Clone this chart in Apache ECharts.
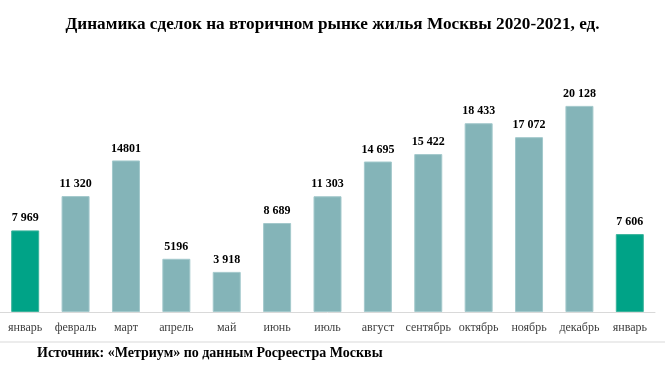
<!DOCTYPE html>
<html>
<head>
<meta charset="utf-8">
<script src="https://cdn.jsdelivr.net/npm/echarts@6/dist/echarts.min.js"></script>
<style>html,body{margin:0;padding:0;background:#fff}#c{width:665px;height:365px}</style>
</head>
<body>
<div id="c"></div>
<script>
const categories = ['январь','февраль','март','апрель','май','июнь','июль','август','сентябрь','октябрь','ноябрь','декабрь','январь'];
const values = [7969, 11320, 14801, 5196, 3918, 8689, 11303, 14695, 15422, 18433, 17072, 20128, 7606];
const valueLabels = ['7 969','11 320','14801','5196','3 918','8 689','11 303','14 695','15 422','18 433','17 072','20 128','7 606'];
const highlighted = [0, 12];
const titleText = 'Динамика сделок на вторичном рынке жилья Москвы 2020-2021, ед.';
const sourceText = 'Источник: «Метриум» по данным Росреестра Москвы';

const chart = echarts.init(document.getElementById('c'));
chart.setOption({
  animation: false,
  title: {
    text: titleText, left: 'center', top: 11,
    textStyle: {fontFamily: 'Liberation Serif', fontWeight: 'bold', fontSize: 17.2, color: '#000'}
  },
  grid: {left: 0, right: 10, top: 56, bottom: 53, containLabel: false},
  xAxis: {
    type: 'category', data: categories,
    axisLine: {lineStyle: {color: '#d9d9d9', width: 1}},
    axisTick: {show: false},
    axisLabel: {fontFamily: 'Liberation Serif', fontSize: 12, color: '#404040', margin: 10, interval: 0}
  },
  yAxis: {type: 'value', min: 0, max: 25000, show: false, splitLine: {show: false}},
  series: [{
    type: 'bar', barWidth: 28,
    data: values.map((v, i) => ({
      value: v,
      itemStyle: {color: highlighted.includes(i) ? '#00a387' : '#84b4b8',
                  borderColor: highlighted.includes(i) ? '#3ab39c' : '#a3c9cc', borderWidth: 1}
    })),
    label: {
      show: true, position: 'top', distance: 6,
      formatter: p => valueLabels[p.dataIndex],
      fontFamily: 'Liberation Serif', fontWeight: 'bold', fontSize: 12, color: '#000'
    }
  }],
  graphic: [
    {type: 'line', shape: {x1: 0, y1: 342, x2: 665, y2: 342}, style: {stroke: '#d9d9d9', lineWidth: 1}},
    {type: 'text', left: 37, top: 346, style: {text: sourceText, font: 'bold 14px "Liberation Serif"', fill: '#000'}}
  ]
});
</script>
</body>
</html>
